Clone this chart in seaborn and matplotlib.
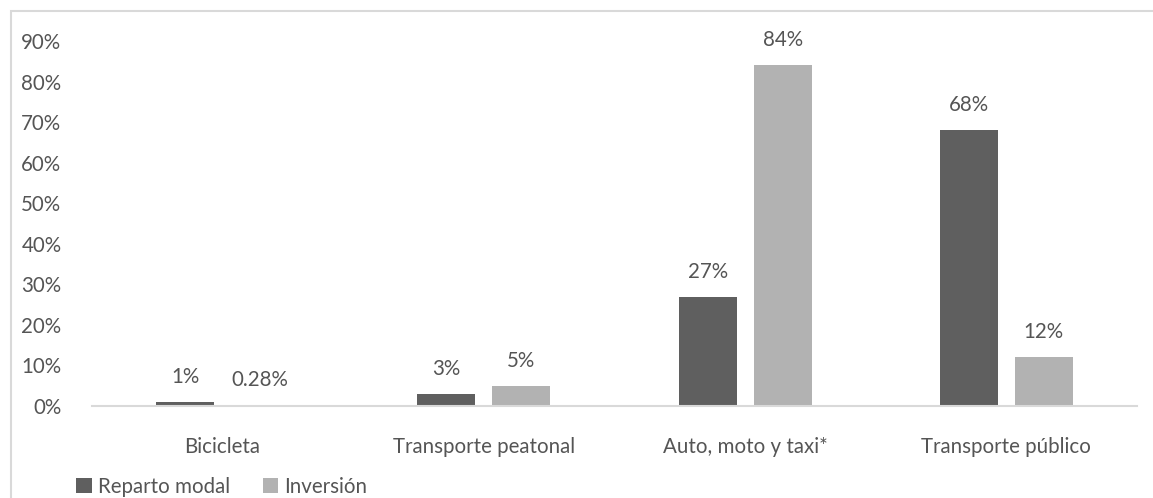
import matplotlib
matplotlib.use("Agg")
import matplotlib.pyplot as plt
from matplotlib.patches import Rectangle, Patch
from matplotlib.ticker import FuncFormatter
import seaborn as sns
import pandas as pd

categories = ["Bicicleta", "Transporte peatonal", "Auto, moto y taxi*", "Transporte público"]
series_names = ["Reparto modal", "Inversión"]
reparto_modal = [1, 3, 27, 68]
inversion = [0.28, 5, 84, 12]
y_ticks = [0, 10, 20, 30, 40, 50, 60, 70, 80, 90]

dark = "#5f5f5f"
light = "#b2b2b2"
text_col = "#555555"
fs = 14.8

df = pd.DataFrame({
    "categoria": categories * 2,
    "serie": [series_names[0]] * 4 + [series_names[1]] * 4,
    "valor": reparto_modal + inversion,
})

sns.set_theme(style="white")
plt.rcParams["font.family"] = ["Lato", "DejaVu Sans"]

W, H = 1153, 498
fig = plt.figure(figsize=(W / 100, H / 100), dpi=100)
ax = fig.add_axes([92 / W, (H - 406) / H, (1137 - 92) / W, (406 - 41) / H])

# outer chart border (extends past the right and bottom edges)
fig.patches.append(Rectangle((11 / W, -0.1), 1.2, (H - 11.5) / H + 0.1,
                             transform=fig.transFigure, fill=False,
                             edgecolor="#d9d9d9", linewidth=1.5))

sns.barplot(data=df, x="categoria", y="valor", hue="serie",
            palette=[dark, light], width=0.575, gap=0.227,
            saturation=1, ax=ax, legend=False, linewidth=0)

ax.set_ylim(0, 90)
ax.set_xlim(-0.5, 3.5)
ax.set_yticks(y_ticks)
ax.yaxis.set_major_formatter(FuncFormatter(lambda v, p: f"{v:.0f}%"))
ax.set_xlabel("")
ax.set_ylabel("")
ax.tick_params(axis="both", length=0, colors=text_col, labelsize=fs)
ax.tick_params(axis="y", pad=22)
ax.tick_params(axis="x", pad=22)
for s in ["top", "right", "left"]:
    ax.spines[s].set_visible(False)
ax.spines["bottom"].set_color("#d9d9d9")
ax.spines["bottom"].set_linewidth(1.5)

for cont in ax.containers:
    for bar in cont:
        v = bar.get_height()
        ax.annotate(f"{v:g}%", (bar.get_x() + bar.get_width() / 2, v),
                    xytext=(0, 18), textcoords="offset points",
                    ha="center", va="center", fontsize=fs, color=text_col)

handles = [Patch(facecolor=dark, edgecolor="none"), Patch(facecolor=light, edgecolor="none")]
fig.legend(handles, series_names, loc="center left",
           bbox_to_anchor=(66 / W, (H - 487) / H), frameon=False, ncol=2,
           fontsize=fs, labelcolor=text_col, handlelength=0.75, handleheight=0.75,
           handletextpad=0.3, columnspacing=1.6, borderpad=0)

fig.savefig("out.png", dpi=100, facecolor="white")
